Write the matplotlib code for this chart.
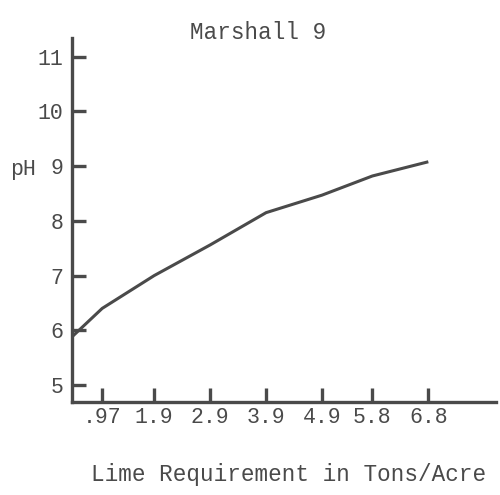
import matplotlib.pyplot as plt

# lime requirement (tons/acre) and resulting pH, Marshall soil sample 9
lime = [0.43, 0.97, 1.9, 2.9, 3.9, 4.9, 5.8, 6.8]
ph = [5.88, 6.40, 7.00, 7.56, 8.15, 8.47, 8.82, 9.08]

xtick_vals = [0.97, 1.9, 2.9, 3.9, 4.9, 5.8, 6.8]
xtick_labels = ['.97', '1.9', '2.9', '3.9', '4.9', '5.8', '6.8']
ytick_vals = [5, 6, 7, 8, 9, 10, 11]

ink = '#4a4a4a'
plt.rcParams['font.family'] = ['Liberation Mono', 'DejaVu Sans Mono']

fig = plt.figure(figsize=(5.0, 4.95), dpi=100)
ax = fig.add_axes([0.144, 0.188, 0.848, 0.735])

ax.plot(lime, ph, color=ink, lw=2.2, solid_capstyle='butt')

ax.set_xlim(0.43, 8.01)
ax.set_ylim(4.69, 11.34)

for side in ('top', 'right'):
    ax.spines[side].set_visible(False)
for side in ('left', 'bottom'):
    ax.spines[side].set_color(ink)
    ax.spines[side].set_linewidth(2.4)

ax.set_xticks(xtick_vals)
ax.set_xticklabels(xtick_labels)
ax.set_yticks(ytick_vals)
ax.tick_params(axis='both', direction='in', length=10, width=2.4,
               color=ink, labelcolor=ink, labelsize=15.5)
ax.tick_params(axis='x', pad=4)
ax.tick_params(axis='y', pad=6)

fig.text(0.517, 0.935, 'Marshall 9', ha='center', va='center',
         fontsize=16.3, color=ink)
fig.text(0.045, 0.657, 'pH', ha='center', va='center', fontsize=15.5, color=ink)
fig.text(0.578, 0.042, 'Lime Requirement in Tons/Acre', ha='center',
         va='center', fontsize=16.3, color=ink)

fig.savefig('out.png', dpi=100, facecolor='white')
